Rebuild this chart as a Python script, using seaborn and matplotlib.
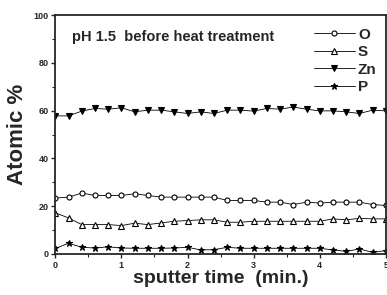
import numpy as np
import pandas as pd
import seaborn as sns
import matplotlib.pyplot as plt
from matplotlib.ticker import MultipleLocator

# czas napylania (min), co 0.2
time_min = [0.0, 0.2, 0.4, 0.6, 0.8, 1.0, 1.2, 1.4, 1.6, 1.8, 2.0, 2.2, 2.4,
            2.6, 2.8, 3.0, 3.2, 3.4, 3.6, 3.8, 4.0, 4.2, 4.4, 4.6, 4.8, 5.0]

o_vals = [23.4, 23.8, 25.5, 24.5, 24.5, 24.5, 25.2, 24.5, 23.8, 23.8, 23.8, 23.8, 23.8,
          22.4, 22.4, 22.4, 21.7, 21.7, 20.7, 21.7, 21.3, 21.7, 21.7, 21.7, 20.7, 20.3]
s_vals = [17.2, 15.1, 12.3, 12.3, 12.3, 11.9, 12.9, 12.3, 13.0, 13.7, 14.0, 14.3, 14.3,
          13.3, 13.3, 13.7, 13.7, 13.7, 13.7, 13.7, 13.7, 14.7, 14.3, 14.9, 14.7, 14.7]
zn_vals = [57.8, 57.8, 59.8, 60.9, 60.6, 61.2, 59.5, 60.2, 60.2, 59.5, 58.8, 59.5, 58.8,
           60.2, 60.2, 59.8, 60.9, 60.6, 61.5, 60.6, 59.9, 59.9, 59.5, 58.8, 60.2, 59.9]
p_vals = [2.3, 4.5, 2.8, 2.5, 3.0, 2.5, 2.4, 2.4, 2.4, 2.5, 2.8, 1.7, 1.8,
          2.8, 2.4, 2.4, 2.4, 2.4, 2.4, 2.4, 2.4, 1.7, 1.1, 2.1, 0.7, 1.4]

elements = ['O', 'S', 'Zn', 'P']

df = pd.DataFrame({'time': time_min * 4,
                   'element': np.repeat(elements, len(time_min)),
                   'value': o_vals + s_vals + zn_vals + p_vals})

sns.set_style('ticks')
plt.rcParams['font.family'] = ['Liberation Sans', 'DejaVu Sans']
plt.rcParams['font.weight'] = 'bold'

fig = plt.figure(figsize=(3.87, 2.95), dpi=100)
ax = fig.add_axes([0.143, 0.139, 0.854, 0.81])

styles = {
    'O': dict(marker='o', mfc='white', ms=3.6),
    'S': dict(marker='^', mfc='white', ms=4.0),
    'Zn': dict(marker='v', mfc='black', ms=4.6),
    'P': dict(marker='*', mfc='black', ms=4.6),
}

for el in elements:
    sub = df[df['element'] == el]
    sns.lineplot(data=sub, x='time', y='value', ax=ax, color='black', lw=0.6,
                 mec='black', mew=0.8, label=el, **styles[el])

ax.set_xlim(0, 5)
ax.set_ylim(0, 100)
ax.xaxis.set_major_locator(MultipleLocator(1))
ax.xaxis.set_minor_locator(MultipleLocator(0.5))
ax.yaxis.set_major_locator(MultipleLocator(20))
ax.yaxis.set_minor_locator(MultipleLocator(10))
ax.tick_params(axis='both', which='major', direction='out', length=3, width=1,
               labelsize=6.5, pad=2)
ax.tick_params(axis='both', which='minor', direction='out', length=2, width=0.8)
for lab in ax.get_xticklabels() + ax.get_yticklabels():
    lab.set_fontweight('bold')
for sp in ax.spines.values():
    sp.set_linewidth(1.3)

ax.set_xlabel('sputter time  (min.)', fontsize=14, fontweight='bold', labelpad=0)
ax.set_ylabel('Atomic %', fontsize=16, fontweight='bold', labelpad=4)

ax.text(0.05, 0.91, 'pH 1.5  before heat treatment', transform=ax.transAxes,
        fontsize=10.5, fontweight='bold', va='center')

leg = ax.legend(loc='upper right', bbox_to_anchor=(1.0, 0.985), frameon=False,
                prop={'size': 11, 'weight': 'bold'}, handlelength=2.7,
                handletextpad=0.2, labelspacing=0.22, borderaxespad=0.2)

fig.savefig('out.png', dpi=100)
